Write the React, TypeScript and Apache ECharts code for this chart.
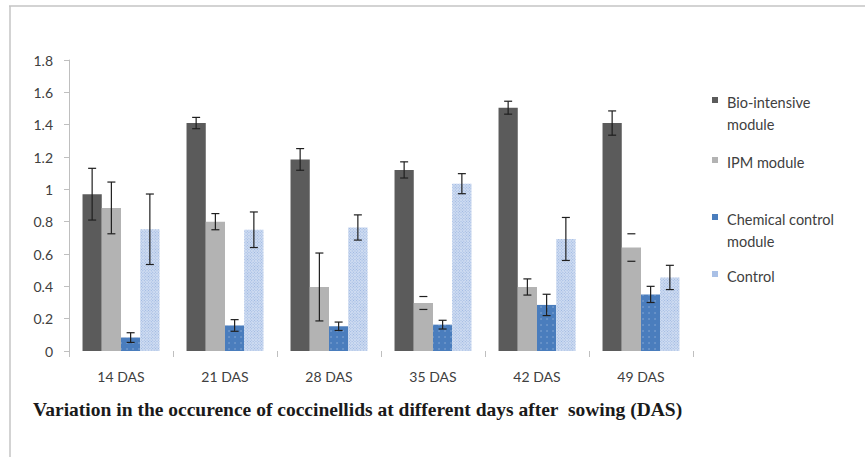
import React, { useEffect, useRef } from 'react';
import * as echarts from 'echarts';

const categories = ['14 DAS', '21 DAS', '28 DAS', '35 DAS', '42 DAS', '49 DAS'];
const seriesNames = ['Bio-intensive module', 'IPM module', 'Chemical control module', 'Control'];
const legendLabels = ['Bio-intensive\nmodule', 'IPM module', 'Chemical control\nmodule', 'Control'];

const bioValues = [0.97, 1.41, 1.185, 1.12, 1.505, 1.41];
const bioErrors = [0.16, 0.035, 0.067, 0.05, 0.04, 0.075];
const ipmValues = [0.885, 0.8, 0.396, 0.297, 0.396, 0.64];
const ipmErrors = [0.16, 0.05, 0.21, 0.04, 0.05, 0.085];
const chemValues = [0.083, 0.158, 0.153, 0.163, 0.285, 0.35];
const chemErrors = [0.03, 0.036, 0.026, 0.027, 0.066, 0.05];
const controlValues = [0.753, 0.75, 0.764, 1.035, 0.693, 0.455];
const controlErrors = [0.218, 0.11, 0.078, 0.062, 0.133, 0.075];

// error bars drawn with caps only (no visible stem): [seriesIndex, categoryIndex]
const capOnlyBars = [[1, 3], [1, 5]];

const title = 'Variation in the occurence of coccinellids at different days after  sowing (DAS)';

const CAT_GAP = 0.26;
const FONT = 'Lato, "Noto Sans", sans-serif';

const colors = ['#5b5b5b', '#b3b3b3', '#4a7dbd', '#cfdcf1'];

export default function App() {
  const ref = useRef<HTMLDivElement>(null);

  useEffect(() => {
    if (!ref.current) return;
    const chart = echarts.init(ref.current, null, { renderer: 'svg' });

    const valueSets = [bioValues, ipmValues, chemValues, controlValues];
    const errorSets = [bioErrors, ipmErrors, chemErrors, controlErrors];

    const decals: any[] = [
      undefined,
      undefined,
      {
        symbol: 'circle',
        symbolSize: 0.6,
        dashArrayX: [[2, 4]],
        dashArrayY: [2, 4],
        color: 'rgba(255,255,255,0.45)',
      },
      {
        symbol: 'rect',
        symbolSize: 1,
        dashArrayX: [[1, 1]],
        dashArrayY: [1, 1],
        rotation: Math.PI / 4,
        color: '#9ab5e1',
      },
    ];

    const barSeries = valueSets.map((vals, idx) => ({
      type: 'bar',
      name: seriesNames[idx],
      data: vals,
      barGap: '0%',
      barCategoryGap: CAT_GAP * 100 + '%',
      itemStyle: {
        color: colors[idx],
        decal: decals[idx],
      },
      z: 2,
    }));

    const errSeries = valueSets.map((vals, idx) => ({
      type: 'custom',
      name: seriesNames[idx] + ' error',
      silent: true,
      z: 10,
      data: vals.map((v, i) => [i, v, errorSets[idx][i]]),
      encode: { x: 0, y: 1 },
      renderItem: (params: any, api: any) => {
        const c = api.value(0);
        const v = api.value(1);
        const e = api.value(2);
        const band = api.size([1, 0])[0];
        const barW = (band * (1 - CAT_GAP)) / 4;
        const center = api.coord([c, v]);
        const x = center[0] + (idx - 1.5) * barW;
        const yTop = api.coord([c, v + e])[1];
        const yBot = api.coord([c, v - e])[1];
        const half = 4;
        const capOnly = capOnlyBars.some((p) => p[0] === idx && p[1] === c);
        const style = { stroke: '#1f1f1f', lineWidth: 1.2 };
        const children: any[] = [
          { type: 'line', shape: { x1: x - half, y1: yTop, x2: x + half, y2: yTop }, style },
          { type: 'line', shape: { x1: x - half, y1: yBot, x2: x + half, y2: yBot }, style },
        ];
        if (!capOnly) {
          children.push({ type: 'line', shape: { x1: x, y1: yTop, x2: x, y2: yBot }, style });
        }
        return { type: 'group', children };
      },
    }));

    const legendTops = [91, 151, 208, 265];
    const legendGraphics: any[] = [];
    legendLabels.forEach((label, idx) => {
      legendGraphics.push({
        type: 'rect',
        shape: { x: 712, y: legendTops[idx] + 6, width: 6, height: 6 },
        style: { fill: idx === 3 ? '#a9c0e6' : colors[idx] },
      });
      legendGraphics.push({
        type: 'text',
        x: 727,
        y: legendTops[idx],
        style: {
          text: label,
          font: '14.5px ' + FONT,
          fill: '#404040',
          lineHeight: 22,
          textVerticalAlign: 'top',
        },
      });
    });

    chart.setOption({
      animation: false,
      backgroundColor: '#ffffff',
      grid: { left: 69, right: 172, top: 60, bottom: 106 },
      xAxis: {
        type: 'category',
        data: categories,
        axisLine: { show: false },
        axisTick: { show: true, length: 6, lineStyle: { color: '#bfbfbf' } },
        axisLabel: { margin: 18, fontFamily: FONT, fontSize: 14, color: '#404040' },
      },
      yAxis: {
        type: 'value',
        min: 0,
        max: 1.8,
        interval: 0.2,
        splitLine: { show: false },
        axisLine: { show: true, lineStyle: { color: '#bfbfbf' } },
        axisTick: { show: true, length: 5, lineStyle: { color: '#bfbfbf' } },
        axisLabel: { margin: 16, fontFamily: FONT, fontSize: 14, color: '#404040' },
      },
      series: [...barSeries, ...errSeries],
      graphic: [
        {
          type: 'line',
          shape: { x1: 9, y1: 6, x2: 865, y2: 6 },
          style: { stroke: '#c4c4c4', lineWidth: 1.5 },
        },
        {
          type: 'line',
          shape: { x1: 10, y1: 6, x2: 10, y2: 457 },
          style: { stroke: '#c4c4c4', lineWidth: 1.5 },
        },
        ...legendGraphics,
        {
          type: 'text',
          x: 33,
          y: 399,
          style: {
            text: title,
            font: 'bold 19.5px "Liberation Serif", "DejaVu Serif", serif',
            fill: '#1a1a1a',
            textVerticalAlign: 'top',
          },
        },
      ],
    });

    return () => chart.dispose();
  }, []);

  return (
    <div
      ref={ref}
      style={{ position: 'fixed', left: 0, top: 0, width: 865, height: 457 }}
    />
  );
}
